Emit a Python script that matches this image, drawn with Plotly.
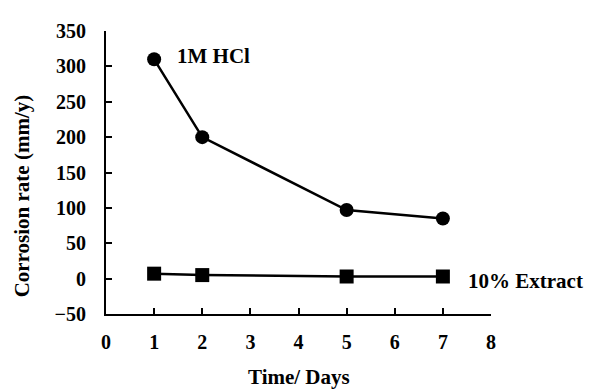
import plotly.graph_objects as go

days = [1, 2, 5, 7]
hcl = [310, 200, 97, 85]
extract = [7, 5, 3, 3]
x_ticks = [0, 1, 2, 3, 4, 5, 6, 7, 8]
y_ticks = [-50, 0, 50, 100, 150, 200, 250, 300, 350]

FONT = "Liberation Serif"
TICKFONT = dict(family=FONT, size=20, color="black", weight="bold")
fig = go.Figure()
fig.add_trace(go.Scatter(x=days, y=hcl, mode="lines+markers",
                         line=dict(color="black", width=2.5),
                         marker=dict(symbol="circle", size=14, color="black"),
                         showlegend=False))
fig.add_trace(go.Scatter(x=days, y=extract, mode="lines+markers",
                         line=dict(color="black", width=2.5),
                         marker=dict(symbol="square", size=14, color="black"),
                         showlegend=False))

fig.update_layout(
    width=590, height=383,
    margin=dict(l=98, r=107, t=13, b=77),
    paper_bgcolor="white", plot_bgcolor="white",
    font=dict(family=FONT, size=21, color="black"),
    xaxis=dict(range=[0, 8], tickvals=x_ticks, ticks="inside", ticklen=6, tickwidth=2,
               tickcolor="black", showline=True, linecolor="black", linewidth=2,
               showgrid=False, zeroline=False, ticklabelstandoff=9, tickfont=TICKFONT),
    yaxis=dict(range=[-50, 350], tickvals=y_ticks, ticks="inside", ticklen=6, tickwidth=2,
               tickcolor="black", showline=True, linecolor="black", linewidth=2,
               showgrid=False, zeroline=False, ticklabelstandoff=14, tickfont=TICKFONT),
    annotations=[
        dict(text="<b>1M HCl</b>", x=1.43, y=314, xref="x", yref="y", xanchor="left",
             yanchor="middle", showarrow=False),
        dict(text="<b>10% Extract</b>", x=7.48, y=-3, xref="x", yref="y", xanchor="left",
             yanchor="middle", showarrow=False),
        dict(text="<b>Time/ Days</b>", x=0.5, y=-0.172, xref="paper", yref="paper",
             xanchor="center", yanchor="top", showarrow=False),
        dict(text="<b>Corrosion rate (mm/y)</b>", x=-0.218, y=0.416, xref="paper", yref="paper",
             xanchor="center", yanchor="middle", textangle=-90, showarrow=False),
    ],
)
fig.write_html("out.html")
